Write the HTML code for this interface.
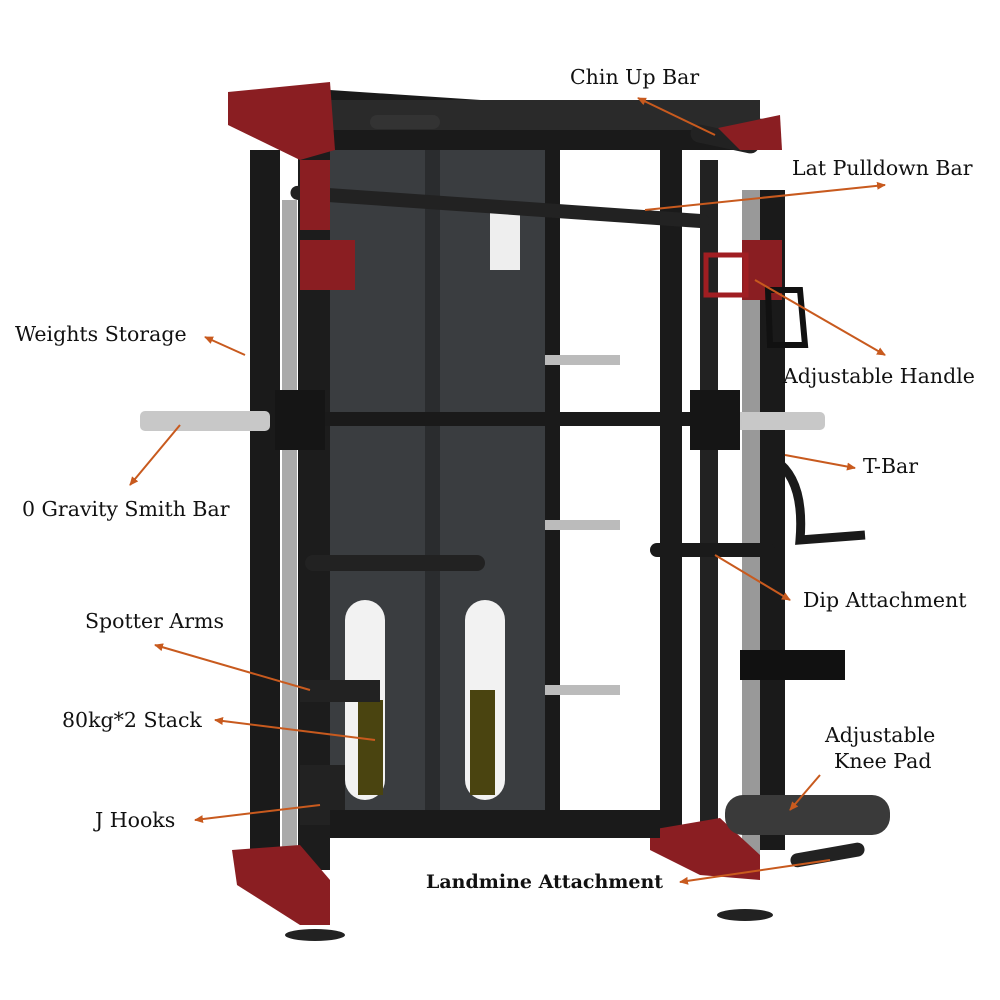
<!DOCTYPE html>
<html><head><meta charset="utf-8"><style>
html,body{margin:0;padding:0;background:#fff;}
svg{display:block}
text{font-family:"DejaVu Serif","Liberation Serif",serif;font-size:20.5px;fill:#111;}
</style></head><body>
<svg width="1000" height="1000" viewBox="0 0 1000 1000" xmlns="http://www.w3.org/2000/svg">
<defs>
<marker id="ah" markerWidth="10" markerHeight="10" refX="8" refY="5" orient="auto" markerUnits="userSpaceOnUse">
<path d="M0,1 L9,5 L0,9 z" fill="#c85a1e"/></marker>
</defs>
<ellipse cx="315" cy="935" rx="30" ry="6" fill="#222"/>
<ellipse cx="745" cy="915" rx="28" ry="6" fill="#222"/>
<rect x="330" y="150" width="215" height="665" fill="#3a3d40"/>
<rect x="425" y="150" width="15" height="660" fill="#2a2c2e"/>
<rect x="345" y="600" width="40" height="200" rx="20" fill="#f2f2f2"/>
<rect x="465" y="600" width="40" height="200" rx="20" fill="#f2f2f2"/>
<rect x="358" y="700" width="25" height="95" fill="#4a4410"/>
<rect x="470" y="690" width="25" height="105" fill="#4a4410"/>
<rect x="490" y="210" width="30" height="60" fill="#eee"/>
<rect x="545" y="150" width="15" height="680" fill="#1a1a1a"/>
<rect x="660" y="150" width="22" height="680" fill="#1a1a1a"/>
<rect x="700" y="160" width="18" height="680" fill="#222"/>
<rect x="742" y="190" width="18" height="670" fill="#999"/>
<rect x="760" y="190" width="25" height="660" fill="#1a1a1a"/>
<rect x="545" y="355" width="75" height="10" fill="#bbb"/>
<rect x="545" y="520" width="75" height="10" fill="#bbb"/>
<rect x="545" y="685" width="75" height="10" fill="#bbb"/>
<rect x="250" y="150" width="30" height="720" fill="#1a1a1a"/>
<rect x="282" y="200" width="15" height="680" fill="#aaa"/>
<rect x="298" y="150" width="32" height="720" fill="#1c1c1c"/>
<polygon points="235,95 330,90 780,120 780,150 330,150 235,120" fill="#1a1a1a"/>
<rect x="330" y="100" width="430" height="30" fill="#2a2a2a"/>
<rect x="690" y="130" width="70" height="18" rx="9" fill="#222" transform="rotate(12 725 139)"/>
<rect x="370" y="115" width="70" height="14" rx="7" fill="#333"/>
<rect x="290" y="200" width="420" height="14" rx="7" fill="#222" transform="rotate(4 500 207)"/>
<polygon points="228,92 330,82 335,150 300,160 228,125" fill="#8a1e22"/>
<polygon points="718,128 780,115 782,150 740,150" fill="#8a1e22"/>
<rect x="300" y="160" width="30" height="70" fill="#8a1e22"/>
<rect x="300" y="240" width="55" height="50" fill="#8a1e22"/>
<rect x="742" y="240" width="40" height="60" fill="#8a1e22"/>
<rect x="706" y="255" width="40" height="40" fill="none" stroke="#a01e22" stroke-width="5"/>
<polygon points="232,850 300,845 330,880 330,925 300,925 237,885" fill="#8a1e22"/>
<polygon points="650,830 720,818 760,855 760,880 700,875 650,850" fill="#8a1e22"/>
<polygon points="768,290 800,290 805,345 770,345" fill="none" stroke="#111" stroke-width="6"/>
<rect x="140" y="411" width="130" height="20" rx="5" fill="#c8c8c8"/>
<rect x="270" y="412" width="460" height="14" fill="#1a1a1a"/>
<rect x="730" y="412" width="95" height="18" rx="5" fill="#c8c8c8"/>
<rect x="275" y="390" width="50" height="60" fill="#151515"/>
<rect x="690" y="390" width="50" height="60" fill="#151515"/>
<rect x="650" y="543" width="125" height="14" rx="7" fill="#1a1a1a"/>
<path d="M775,460 Q805,480 800,540 L865,535" fill="none" stroke="#1a1a1a" stroke-width="9"/>
<rect x="740" y="650" width="105" height="30" fill="#111"/>
<rect x="305" y="555" width="180" height="16" rx="8" fill="#222"/>
<rect x="300" y="680" width="80" height="22" fill="#222"/>
<rect x="725" y="795" width="165" height="40" rx="18" fill="#3a3a3a"/>
<rect x="790" y="848" width="75" height="14" rx="7" fill="#222" transform="rotate(-10 827 855)"/>
<rect x="300" y="765" width="45" height="60" fill="#222"/>
<rect x="330" y="810" width="330" height="28" fill="#1a1a1a"/>

<g stroke="#c85a1e" stroke-width="2" fill="none" marker-end="url(#ah)">
<line x1="715" y1="135" x2="638" y2="98"/>
<line x1="645" y1="210" x2="885" y2="185"/>
<line x1="755" y1="280" x2="885" y2="355"/>
<line x1="245" y1="355" x2="205" y2="337"/>
<line x1="785" y1="455" x2="855" y2="468"/>
<line x1="180" y1="425" x2="130" y2="485"/>
<line x1="715" y1="555" x2="790" y2="600"/>
<line x1="310" y1="690" x2="155" y2="645"/>
<line x1="375" y1="740" x2="215" y2="720"/>
<line x1="320" y1="805" x2="195" y2="820"/>
<line x1="820" y1="775" x2="790" y2="810"/>
<line x1="830" y1="860" x2="680" y2="882"/>
</g>
<text x="570" y="84">Chin Up Bar</text>
<text x="792" y="175">Lat Pulldown Bar</text>
<text x="783" y="383">Adjustable Handle</text>
<text x="15" y="341">Weights Storage</text>
<text x="863" y="473">T-Bar</text>
<text x="22" y="516">0 Gravity Smith Bar</text>
<text x="803" y="607">Dip Attachment</text>
<text x="85" y="628">Spotter Arms</text>
<text x="62" y="727">80kg*2 Stack</text>
<text x="95" y="827">J Hooks</text>
<text x="825" y="742">Adjustable</text>
<text x="834" y="768">Knee Pad</text>
<text x="426" y="888" style="font-weight:bold;font-size:19px">Landmine Attachment</text>
</svg>
</body></html>
